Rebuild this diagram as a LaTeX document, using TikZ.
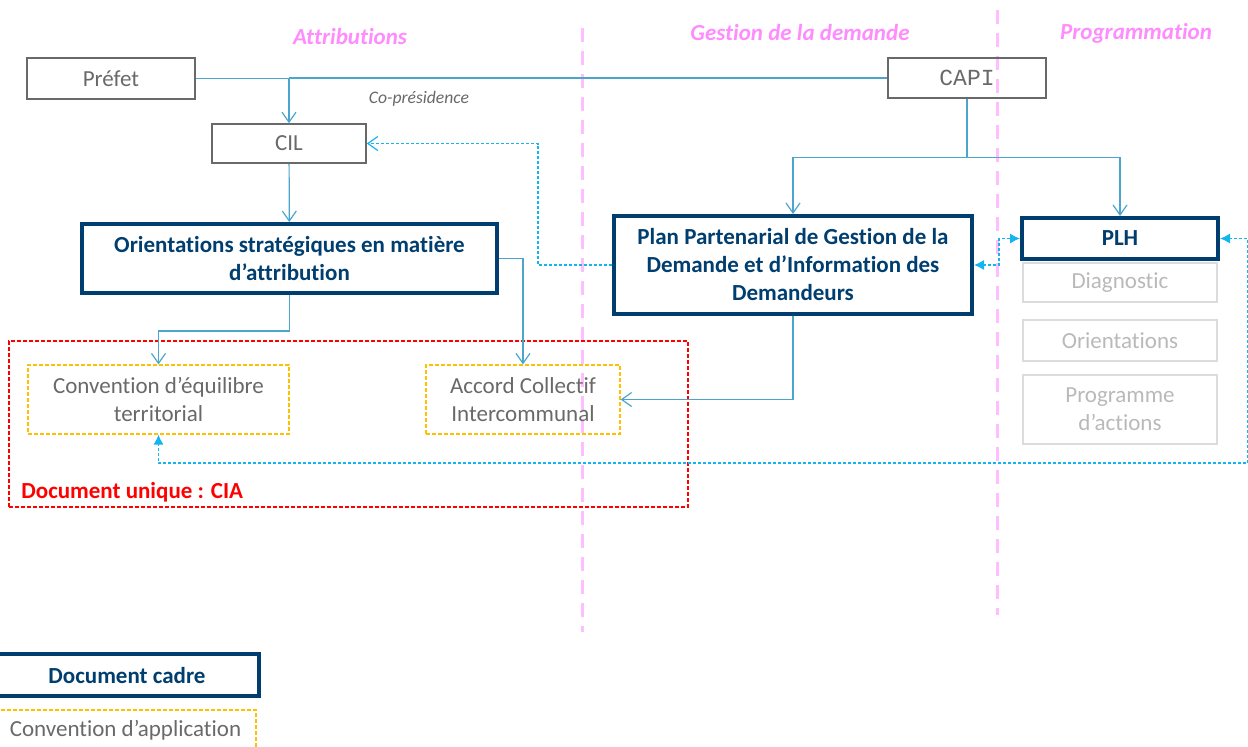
\documentclass[tikz,border=0pt]{standalone}
\usepackage{fontspec}
\setmainfont{Carlito}[Ligatures=NoCommon]
\newfontfamily\capifont{Liberation Mono}
\usetikzlibrary{arrows.meta,positioning}

\definecolor{navy}{RGB}{0,62,112}
\definecolor{lien}{RGB}{75,165,205}
\definecolor{pointille}{RGB}{20,180,240}
\definecolor{rose}{RGB}{255,140,255}
\definecolor{rosepale}{RGB}{255,190,255}
\definecolor{grisfonce}{RGB}{105,105,105}
\definecolor{grisclair}{RGB}{185,185,185}
\definecolor{orangec}{RGB}{255,192,0}

\tikzset{
  txt/.style={font=\fontsize{11.5}{14}\selectfont},
  acteur/.style={txt, draw=grisfonce, line width=0.8pt, text=grisfonce, inner sep=0pt},
  cadre/.style={txt, draw=navy, line width=2pt, text=navy, font=\fontsize{11.5}{14}\selectfont\bfseries, align=center, inner sep=0pt},
  conv/.style={txt, draw=orangec, line width=0.6pt, dash pattern=on 2pt off 1pt, text=grisfonce, align=center, inner sep=0pt},
  etape/.style={txt, draw=grisclair!50, line width=0.8pt, text=grisclair, align=center, inner sep=0pt},
  titre/.style={font=\fontsize{11.5}{14}\selectfont\bfseries\itshape, text=rose},
  lien/.style={draw=lien, line width=0.6pt},
  pts/.style={draw=pointille, line width=0.6pt, dash pattern=on 1.5pt off 1pt},
  sep/.style={draw=rosepale, line width=1.5pt, dash pattern=on 7pt off 4.5pt},
}

\begin{document}
\begin{tikzpicture}[x=0.5pt, y=-0.5pt, >={Straight Barb[length=5pt,width=7pt]}]
  \useasboundingbox (0,0) rectangle (1248,746);

  % separateurs
  \draw[sep] (582,28) -- (582,632);
  \draw[sep] (997,10) -- (997,615);

  \node[titre] (t1) at (350,37) {Attributions};
  \node[titre] (t2) at (800,33) {Gestion de la demande};
  \node[titre] (t3) at (1136,33) {Programmation};

  % acteurs
  \node[acteur, minimum width=84pt, minimum height=20.5pt] (prefet) at (111,78.5) {Préfet};
  \node[acteur, minimum width=77pt, minimum height=19.5pt] (cil) at (289,143.5) {CIL};
  \node[acteur, minimum width=79pt, minimum height=20pt, font=\capifont\fontsize{11.5}{14}\selectfont] (capi) at (967,78) {CAPI};
  \node[font=\fontsize{8.8}{10}\selectfont\itshape, text=grisfonce] (copres) at (419,99) {Co-présidence};

  % documents cadres
  \node[cadre, minimum width=207.5pt, minimum height=34.5pt] (orient) at (289.5,258.5)
    {Orientations stratégiques en matière\\d’attribution};
  \node[cadre, minimum width=179pt, minimum height=49pt] (ppgd) at (793,265)
    {Plan Partenarial de Gestion de la\\Demande et d’Information des\\Demandeurs};
  \node[cadre, minimum width=98pt, minimum height=20.5pt] (plh) at (1120,238.5) {PLH};
  \node[etape, minimum width=97pt, minimum height=19.5pt] (diag) at (1120,282.5) {Diagnostic};
  \node[etape, minimum width=97pt, minimum height=20.5pt] (orpl) at (1120,340.5) {Orientations};
  \node[etape, minimum width=97pt, minimum height=34.5pt] (prog) at (1120,409.5) {Programme\\d’actions};

  % CIA
  \node[draw=red, line width=0.6pt, dash pattern=on 2pt off 1pt, minimum width=339.5pt, minimum height=83pt, inner sep=0pt] (cia) at (348.5,424) {};
  \node[font=\fontsize{11.5}{14}\selectfont\bfseries, text=red, anchor=west, inner sep=0pt] (ciatxt) at (21,492) {Document unique : CIA};
  \node[conv, minimum width=130.5pt, minimum height=34.5pt] (cet) at (158.5,399.5) {Convention d’équilibre\\territorial};
  \node[conv, minimum width=97pt, minimum height=34.5pt] (acc) at (523,399.5) {Accord Collectif\\Intercommunal};

  % legende
  \node[cadre, minimum width=132pt, minimum height=21pt] (lcadre) at (127,675) {Document cadre};
  \node[conv, minimum width=130.5pt, minimum height=20pt] (lconv) at (125.5,730) {Convention d’application};

  % liens
  \draw[lien, ->] (prefet.east) -| (cil.north);
  \draw[lien] (capi.west) -- (capi.west -| cil.north);
  \draw[lien, ->] (cil) -- (orient);
  \draw[lien, ->] (orient.south) -- ++(0,36) -| (cet.north);
  \draw[lien, ->] (orient.east) -| (acc.north);
  \draw[lien] (capi.south) -- ++(0,59) coordinate (capib);
  \draw[lien, ->] (capib) -| (ppgd.north);
  \draw[lien, ->] (capib) -| (plh.north);
  \draw[lien, ->] (ppgd.south) |- (acc.east);

  % liens en pointilles
  \draw[pts, ->] (ppgd.west) -- ++(-74,0) |- (cil.east);
  \draw[pts, {Latex[length=5pt,width=5pt]}-{Latex[length=5pt,width=5pt]}] (ppgd.east) -- ++(25,0) |- (plh.west);
  \draw[pts, {Latex[length=5pt,width=5pt]}-{Latex[length=5pt,width=5pt]}] (plh.east) -| ++(28,224.5) -| (cet.south);
\end{tikzpicture}
\end{document}
